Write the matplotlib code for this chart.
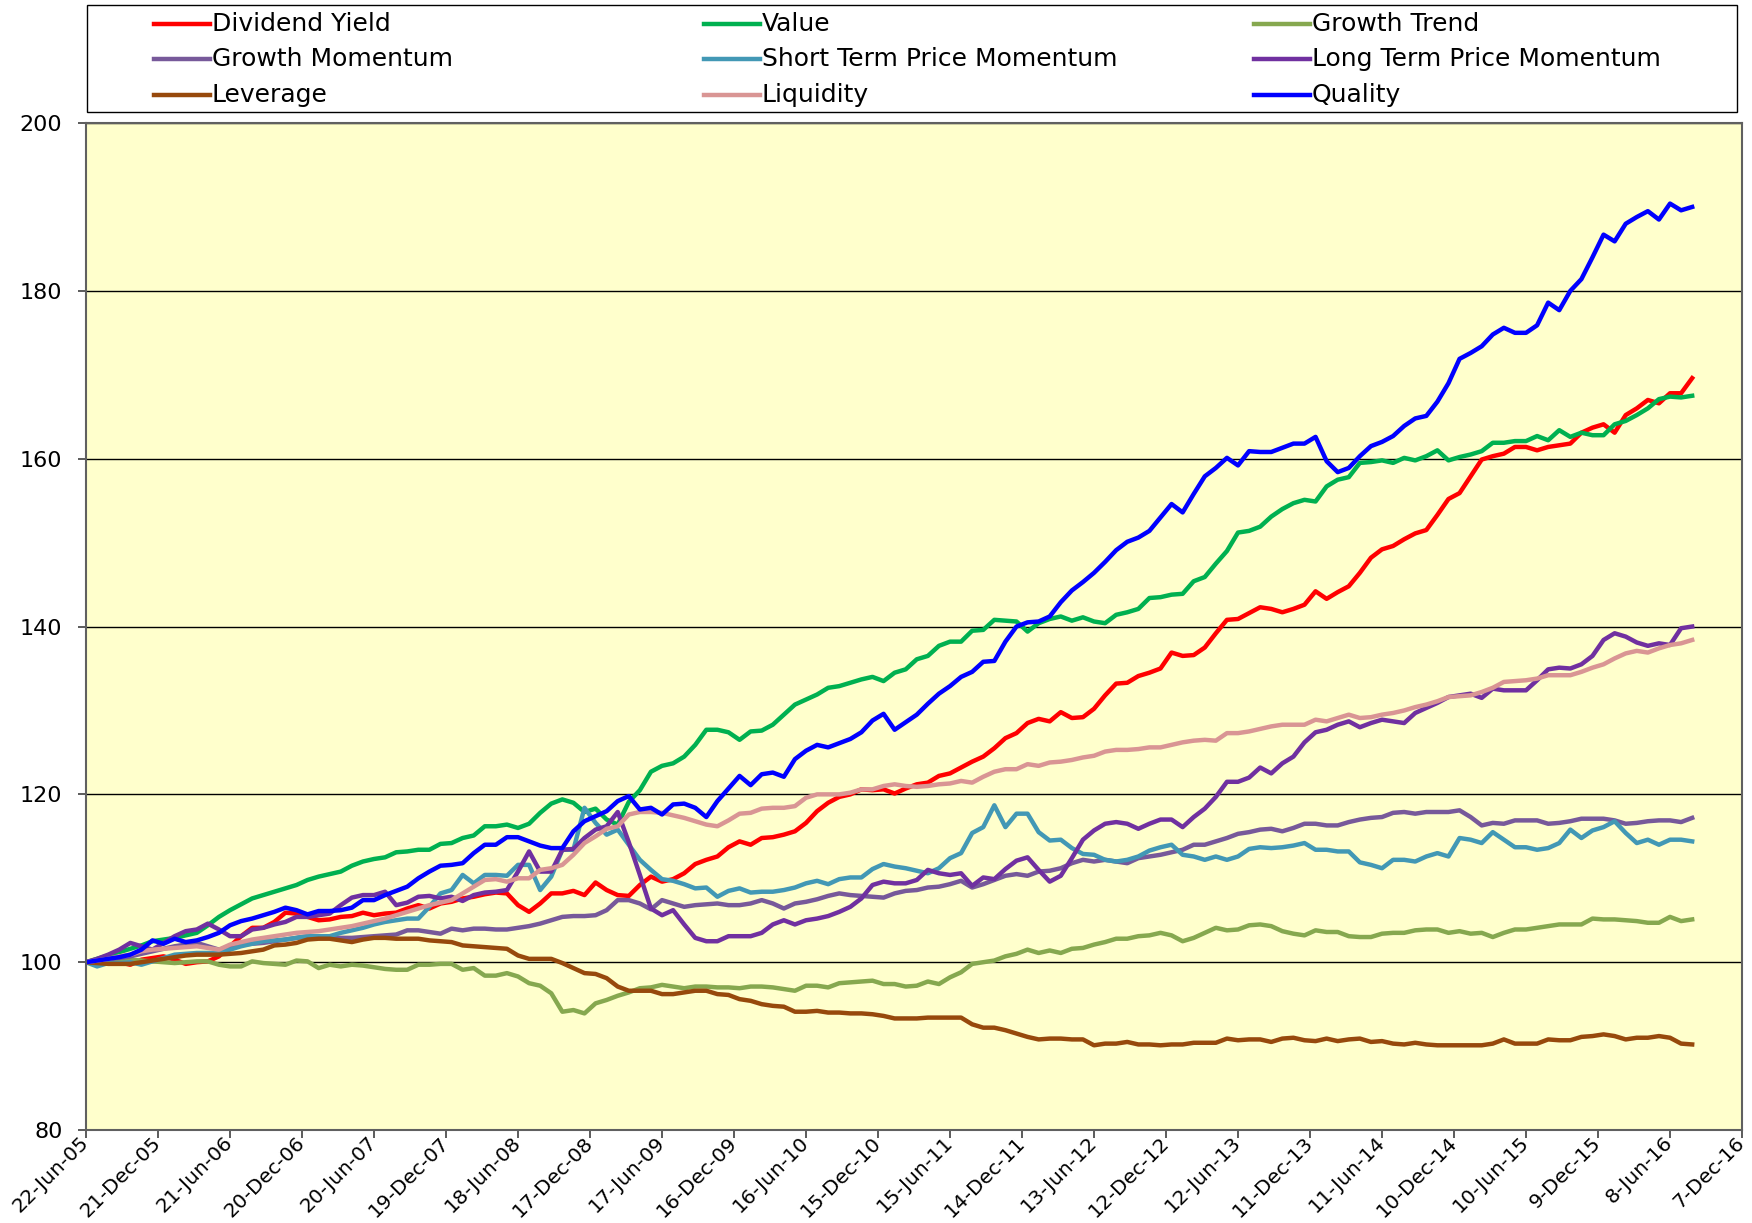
import matplotlib
matplotlib.use("Agg")
import matplotlib.pyplot as plt
import matplotlib.dates as mdates
import pandas as pd
from matplotlib.lines import Line2D
from matplotlib.patches import Rectangle
from matplotlib.ticker import FuncFormatter, MultipleLocator

# -----------------------------
# Data: index levels, one point every 4 weeks from 22-Jun-05
# -----------------------------
dates = pd.date_range("2005-06-22", periods=146, freq="28D")

dividend_yield = [
    100.0, 100.1, 100.2, 100.0, 99.7, 100.3, 100.5, 100.7, 100.3, 99.8,
    100.0, 100.1, 100.7, 101.9, 103.1, 104.1, 104.1, 104.8, 105.9, 105.8,
    105.4, 105.0, 105.1, 105.4, 105.5, 105.9, 105.6, 105.8, 105.9, 106.4,
    106.8, 106.4, 107.0, 107.2, 107.6, 107.8, 108.1, 108.3, 108.2, 106.8,
    106.0, 107.0, 108.2, 108.2, 108.5, 108.0, 109.5, 108.6, 108.0, 107.9,
    109.2, 110.2, 109.6, 109.9, 110.6, 111.7, 112.2, 112.6, 113.7, 114.4,
    114.0, 114.8, 114.9, 115.2, 115.6, 116.6, 118.0, 119.0, 119.7, 120.0,
    120.6, 120.5, 120.6, 120.1, 120.7, 121.2, 121.4, 122.2, 122.5, 123.2,
    123.9, 124.5, 125.5, 126.7, 127.3, 128.5, 129.0, 128.7, 129.8, 129.1,
    129.2, 130.2, 131.8, 133.2, 133.3, 134.1, 134.5, 135.0, 136.9, 136.5,
    136.6, 137.5, 139.2, 140.8, 140.9, 141.6, 142.3, 142.1, 141.7, 142.1,
    142.6, 144.2, 143.3, 144.1, 144.8, 146.4, 148.2, 149.2, 149.6, 150.4,
    151.1, 151.5, 153.3, 155.2, 155.9, 157.9, 159.9, 160.3, 160.6, 161.4,
    161.4, 161.0, 161.4, 161.6, 161.8, 163.1, 163.7, 164.1, 163.1, 165.2,
    166.0, 167.0, 166.6, 167.8, 167.8, 169.6,
]

value = [
    100.0, 100.4, 100.8, 101.2, 101.6, 102.0, 102.5, 102.7, 102.9, 103.2,
    103.5, 104.4, 105.4, 106.2, 106.9, 107.6, 108.0, 108.4, 108.8, 109.2,
    109.8, 110.2, 110.5, 110.8, 111.5, 112.0, 112.3, 112.5, 113.1, 113.2,
    113.4, 113.4, 114.1, 114.2, 114.8, 115.1, 116.2, 116.2, 116.4, 116.0,
    116.5, 117.8, 118.9, 119.4, 119.0, 117.9, 118.3, 117.0, 116.4, 119.1,
    120.5, 122.7, 123.4, 123.7, 124.5, 125.9, 127.7, 127.7, 127.4, 126.5,
    127.5, 127.6, 128.3, 129.5, 130.7, 131.3, 131.9, 132.7, 132.9, 133.3,
    133.7, 134.0, 133.5, 134.5, 134.9, 136.1, 136.5, 137.7, 138.2, 138.2,
    139.5, 139.6, 140.8, 140.7, 140.6, 139.4, 140.4, 140.9, 141.2, 140.7,
    141.1, 140.6, 140.4, 141.4, 141.7, 142.1, 143.4, 143.5, 143.8, 143.9,
    145.4, 145.9, 147.5, 149.0, 151.2, 151.4, 151.9, 153.1, 154.0, 154.7,
    155.1, 154.9, 156.7, 157.5, 157.8, 159.5, 159.6, 159.8, 159.5, 160.1,
    159.8, 160.3, 161.0, 159.8, 160.2, 160.5, 160.9, 161.9, 161.9, 162.1,
    162.1, 162.7, 162.2, 163.4, 162.6, 163.1, 162.8, 162.8, 164.1, 164.5,
    165.2, 166.0, 167.1, 167.4, 167.3, 167.5,
]

growth_trend = [
    100.0, 100.1, 100.2, 100.3, 100.3, 100.2, 100.1, 100.0, 99.9, 100.0,
    100.1, 100.1, 99.7, 99.5, 99.5, 100.1, 99.9, 99.8, 99.7, 100.2,
    100.1, 99.3, 99.7, 99.5, 99.7, 99.6, 99.4, 99.2, 99.1, 99.1,
    99.7, 99.7, 99.8, 99.8, 99.1, 99.3, 98.4, 98.4, 98.7, 98.3,
    97.5, 97.2, 96.3, 94.1, 94.3, 93.9, 95.1, 95.5, 96.0, 96.4,
    96.9, 97.0, 97.3, 97.1, 96.9, 97.1, 97.1, 97.0, 97.0, 96.9,
    97.1, 97.1, 97.0, 96.8, 96.6, 97.2, 97.2, 97.0, 97.5, 97.6,
    97.7, 97.8, 97.4, 97.4, 97.1, 97.2, 97.7, 97.4, 98.2, 98.8,
    99.8, 100.0, 100.2, 100.7, 101.0, 101.5, 101.1, 101.4, 101.1, 101.6,
    101.7, 102.1, 102.4, 102.8, 102.8, 103.1, 103.2, 103.5, 103.2, 102.5,
    102.9, 103.5, 104.1, 103.8, 103.9, 104.4, 104.5, 104.3, 103.7, 103.4,
    103.2, 103.8, 103.6, 103.6, 103.1, 103.0, 103.0, 103.4, 103.5, 103.5,
    103.8, 103.9, 103.9, 103.5, 103.7, 103.4, 103.5, 103.0, 103.5, 103.9,
    103.9, 104.1, 104.3, 104.5, 104.5, 104.5, 105.2, 105.1, 105.1, 105.0,
    104.9, 104.7, 104.7, 105.4, 104.9, 105.1,
]

growth_momentum = [
    100.0, 100.2, 100.4, 100.5, 100.7, 101.0, 101.3, 101.6, 101.9, 102.1,
    102.3, 101.9, 101.5, 101.8, 102.1, 102.2, 102.3, 102.5, 102.7, 102.9,
    103.1, 103.0, 102.9, 102.9, 102.9, 103.0, 103.1, 103.2, 103.3, 103.8,
    103.8, 103.6, 103.4, 104.0, 103.8, 104.0, 104.0, 103.9, 103.9, 104.1,
    104.3, 104.6, 105.0, 105.4, 105.5, 105.5, 105.6, 106.2, 107.4, 107.4,
    107.0, 106.3, 107.4, 107.0, 106.6, 106.8, 106.9, 107.0, 106.8, 106.8,
    107.0, 107.4, 107.0, 106.4, 107.0, 107.2, 107.5, 107.9, 108.2, 108.0,
    107.9, 107.8, 107.7, 108.2, 108.5, 108.6, 108.9, 109.0, 109.3, 109.7,
    108.9, 109.3, 109.8, 110.3, 110.5, 110.3, 110.8, 110.9, 111.2, 111.8,
    112.2, 112.0, 112.2, 112.0, 111.8, 112.4, 112.6, 112.8, 113.1, 113.4,
    114.0, 114.0, 114.4, 114.8, 115.3, 115.5, 115.8, 115.9, 115.6, 116.0,
    116.5, 116.5, 116.3, 116.3, 116.7, 117.0, 117.2, 117.3, 117.8, 117.9,
    117.7, 117.9, 117.9, 117.9, 118.1, 117.3, 116.3, 116.6, 116.5, 116.9,
    116.9, 116.9, 116.5, 116.6, 116.8, 117.1, 117.1, 117.1, 116.9, 116.5,
    116.6, 116.8, 116.9, 116.9, 116.7, 117.2,
]

short_term_momentum = [
    100.0, 99.5, 99.9, 99.9, 100.0, 99.7, 100.1, 100.5, 100.9, 101.0,
    101.1, 101.1, 101.1, 101.5, 101.9, 102.2, 102.5, 102.6, 102.7, 102.9,
    103.1, 103.1, 103.1, 103.5, 103.8, 104.1, 104.5, 104.8, 105.0, 105.2,
    105.2, 106.6, 108.2, 108.6, 110.4, 109.4, 110.4, 110.4, 110.3, 111.6,
    111.6, 108.6, 110.2, 113.4, 113.4, 118.4, 116.6, 115.2, 115.8, 114.0,
    112.2, 111.0, 109.9, 109.7, 109.3, 108.8, 108.9, 107.8, 108.5, 108.8,
    108.3, 108.4, 108.4, 108.6, 108.9, 109.4, 109.7, 109.3, 109.9, 110.1,
    110.1, 111.1, 111.7, 111.4, 111.2, 110.9, 110.6, 111.2, 112.4, 113.0,
    115.4, 116.1, 118.7, 116.1, 117.7, 117.7, 115.5, 114.5, 114.6, 113.6,
    112.9, 112.8, 112.2, 112.0, 112.2, 112.6, 113.3, 113.7, 114.0, 112.8,
    112.6, 112.2, 112.6, 112.2, 112.6, 113.5, 113.7, 113.6, 113.7, 113.9,
    114.2, 113.4, 113.4, 113.2, 113.2, 111.9, 111.6, 111.2, 112.2, 112.2,
    112.0, 112.6, 113.0, 112.6, 114.8, 114.6, 114.2, 115.5, 114.6, 113.7,
    113.7, 113.4, 113.6, 114.2, 115.8, 114.8, 115.7, 116.1, 116.8, 115.4,
    114.2, 114.6, 114.0, 114.6, 114.6, 114.4,
]

long_term_momentum = [
    100.0, 100.4, 100.9, 101.5, 102.3, 101.9, 101.5, 102.3, 103.1, 103.7,
    103.9, 104.6, 103.9, 103.1, 103.1, 103.9, 104.1, 104.5, 104.8, 105.4,
    105.4, 105.6, 105.8, 106.8, 107.7, 108.0, 108.0, 108.4, 106.8, 107.1,
    107.8, 107.9, 107.6, 107.8, 107.3, 108.0, 108.3, 108.4, 108.6, 110.8,
    113.2, 110.8, 110.8, 113.4, 113.5, 114.8, 115.8, 116.2, 117.9, 114.3,
    110.4, 106.4, 105.6, 106.2, 104.5, 102.9, 102.5, 102.5, 103.1, 103.1,
    103.1, 103.5, 104.5, 105.0, 104.5, 105.0, 105.2, 105.5, 106.0, 106.6,
    107.6, 109.2, 109.6, 109.4, 109.4, 109.8, 111.0, 110.6, 110.4, 110.6,
    109.1, 110.1, 109.9, 111.1, 112.1, 112.5, 111.0, 109.6, 110.3, 112.4,
    114.6, 115.7, 116.5, 116.7, 116.5, 115.9, 116.5, 117.0, 117.0, 116.1,
    117.3, 118.3, 119.7, 121.5, 121.5, 122.0, 123.2, 122.5, 123.7, 124.5,
    126.2, 127.4, 127.7, 128.3, 128.7, 128.0, 128.5, 128.9, 128.7, 128.5,
    129.7, 130.3, 130.9, 131.6, 131.8, 132.0, 131.5, 132.6, 132.4, 132.4,
    132.4, 133.6, 134.9, 135.1, 135.0, 135.5, 136.5, 138.4, 139.2, 138.8,
    138.1, 137.7, 138.0, 137.8, 139.8, 140.0,
]

leverage = [
    100.0, 99.9, 99.8, 99.8, 99.8, 100.0, 100.2, 100.4, 100.6, 100.8,
    100.9, 100.9, 100.9, 101.0, 101.1, 101.3, 101.5, 102.0, 102.1, 102.3,
    102.7, 102.8, 102.8, 102.6, 102.4, 102.7, 102.9, 102.9, 102.8, 102.8,
    102.8, 102.6, 102.5, 102.4, 102.0, 101.9, 101.8, 101.7, 101.6, 100.8,
    100.4, 100.4, 100.4, 99.9, 99.3, 98.7, 98.6, 98.1, 97.1, 96.6,
    96.6, 96.6, 96.2, 96.2, 96.4, 96.6, 96.6, 96.2, 96.1, 95.6,
    95.4, 95.0, 94.8, 94.7, 94.1, 94.1, 94.2, 94.0, 94.0, 93.9,
    93.9, 93.8, 93.6, 93.3, 93.3, 93.3, 93.4, 93.4, 93.4, 93.4,
    92.6, 92.2, 92.2, 91.9, 91.5, 91.1, 90.8, 90.9, 90.9, 90.8,
    90.8, 90.1, 90.3, 90.3, 90.5, 90.2, 90.2, 90.1, 90.2, 90.2,
    90.4, 90.4, 90.4, 90.9, 90.7, 90.8, 90.8, 90.5, 90.9, 91.0,
    90.7, 90.6, 90.9, 90.6, 90.8, 90.9, 90.5, 90.6, 90.3, 90.2,
    90.4, 90.2, 90.1, 90.1, 90.1, 90.1, 90.1, 90.3, 90.8, 90.3,
    90.3, 90.3, 90.8, 90.7, 90.7, 91.1, 91.2, 91.4, 91.2, 90.8,
    91.0, 91.0, 91.2, 91.0, 90.3, 90.2,
]

liquidity = [
    100.0, 100.2, 100.4, 100.7, 100.9, 101.3, 101.5, 101.6, 101.7, 101.8,
    101.9, 101.7, 101.5, 102.1, 102.4, 102.7, 102.9, 103.1, 103.3, 103.5,
    103.6, 103.7, 103.9, 104.1, 104.3, 104.6, 104.9, 105.2, 105.6, 106.0,
    106.4, 106.8, 107.1, 107.4, 108.2, 109.0, 109.8, 109.9, 109.6, 110.0,
    110.0, 111.0, 111.2, 111.6, 112.8, 114.2, 115.0, 115.9, 116.2, 117.6,
    117.9, 117.9, 117.8, 117.5, 117.2, 116.8, 116.4, 116.2, 116.9, 117.7,
    117.8, 118.3, 118.4, 118.4, 118.6, 119.6, 120.0, 120.0, 120.0, 120.2,
    120.6, 120.6, 121.0, 121.2, 121.0, 120.9, 121.0, 121.2, 121.3, 121.6,
    121.4, 122.1, 122.7, 123.0, 123.0, 123.6, 123.4, 123.8, 123.9, 124.1,
    124.4, 124.6, 125.1, 125.3, 125.3, 125.4, 125.6, 125.6, 125.9, 126.2,
    126.4, 126.5, 126.4, 127.3, 127.3, 127.5, 127.8, 128.1, 128.3, 128.3,
    128.3, 128.9, 128.7, 129.1, 129.5, 129.1, 129.2, 129.5, 129.7, 130.0,
    130.4, 130.7, 131.1, 131.6, 131.7, 131.8, 132.2, 132.7, 133.4, 133.5,
    133.6, 133.8, 134.2, 134.2, 134.2, 134.6, 135.1, 135.5, 136.2, 136.8,
    137.1, 136.9, 137.4, 137.8, 138.0, 138.4,
]

quality = [
    100.0, 100.2, 100.4, 100.6, 100.9, 101.5, 102.6, 102.2, 102.8, 102.4,
    102.6, 103.0, 103.5, 104.4, 104.9, 105.2, 105.6, 106.0, 106.5, 106.2,
    105.7, 106.1, 106.1, 106.2, 106.5, 107.4, 107.4, 108.0, 108.5, 109.0,
    110.0, 110.8, 111.5, 111.6, 111.8, 113.0, 114.0, 114.0, 114.9, 114.9,
    114.4, 113.9, 113.6, 113.6, 115.6, 116.8, 117.4, 118.0, 119.2, 119.8,
    118.2, 118.4, 117.6, 118.8, 118.9, 118.4, 117.3, 119.2, 120.7, 122.2,
    121.1, 122.4, 122.6, 122.1, 124.2, 125.2, 125.9, 125.6, 126.1, 126.6,
    127.4, 128.8, 129.6, 127.7, 128.6, 129.5, 130.8, 132.0, 132.9, 134.0,
    134.6, 135.8, 135.9, 138.2, 140.0, 140.5, 140.6, 141.2, 142.9, 144.3,
    145.3, 146.4, 147.7, 149.1, 150.1, 150.6, 151.4, 153.0, 154.6, 153.6,
    155.8, 157.9, 158.9, 160.1, 159.2, 160.9, 160.8, 160.8, 161.3, 161.8,
    161.8, 162.6, 159.7, 158.4, 158.9, 160.3, 161.5, 162.0, 162.7, 163.9,
    164.8, 165.1, 166.8, 169.0, 171.9, 172.6, 173.4, 174.8, 175.6, 175.0,
    175.0, 175.9, 178.6, 177.7, 180.0, 181.4, 184.0, 186.7, 185.9, 188.0,
    188.8, 189.5, 188.5, 190.4, 189.6, 190.0,
]

series = [
    ("Dividend Yield", dividend_yield, "#FF0000"),
    ("Value", value, "#00B050"),
    ("Growth Trend", growth_trend, "#86A84F"),
    ("Growth Momentum", growth_momentum, "#77599A"),
    ("Short Term Price Momentum", short_term_momentum, "#4298B5"),
    ("Long Term Price Momentum", long_term_momentum, "#7030A0"),
    ("Leverage", leverage, "#97490C"),
    ("Liquidity", liquidity, "#D99594"),
    ("Quality", quality, "#0000FF"),
]

# -----------------------------
# Plot
# -----------------------------
fig = plt.figure(figsize=(17.52, 12.23), dpi=100)
ax = fig.add_axes([0.0491, 0.076, 0.9452, 0.8234])
ax.set_facecolor("#FFFFCC")

for name, vals, color in series:
    ax.plot(dates, vals, color=color, lw=3.2, label=name)

ax.set_ylim(80, 200)
ax.yaxis.set_major_locator(MultipleLocator(20))
ax.grid(axis="y", color="black", lw=1)
ax.set_axisbelow(True)

start = pd.Timestamp("2005-06-22")
ticks = [start + pd.Timedelta(days=182 * k) for k in range(24)]
ax.set_xlim(ticks[0], ticks[-1])
ax.set_xticks(ticks)
ax.xaxis.set_major_formatter(
    FuncFormatter(lambda x, pos: "{}-{}".format(mdates.num2date(x).day,
                                                mdates.num2date(x).strftime("%b-%y"))))

for lab in ax.get_xticklabels():
    lab.set_rotation(45)
    lab.set_ha("right")
    lab.set_va("center")
    lab.set_rotation_mode("anchor")

ax.tick_params(axis="both", length=6, width=1.2, color="#404040")
ax.tick_params(axis="x", labelsize=14.5, pad=1)
ax.tick_params(axis="y", labelsize=16, pad=11)
for s in ax.spines.values():
    s.set_color("#606060")
    s.set_linewidth(1.5)

# -----------------------------
# Legend box (3 columns, filled row by row)
# -----------------------------
fig.patches.append(Rectangle((0.0497, 0.9084), 0.9418, 0.0875, transform=fig.transFigure,
                             facecolor="white", edgecolor="black", lw=1))
col_x = [154, 704, 1254]
row_y = [24, 59, 95]
W, H = 1752.0, 1223.0
for k, (name, vals, color) in enumerate(series):
    r, c = divmod(k, 3)
    x0 = col_x[c]
    y = 1 - row_y[r] / H
    fig.add_artist(Line2D([x0 / W, (x0 + 56) / W], [y, y], transform=fig.transFigure,
                          color=color, lw=3.2))
    fig.text((x0 + 58) / W, y, name, fontsize=18, va="center", ha="left")

fig.savefig("out.png", dpi=100)
